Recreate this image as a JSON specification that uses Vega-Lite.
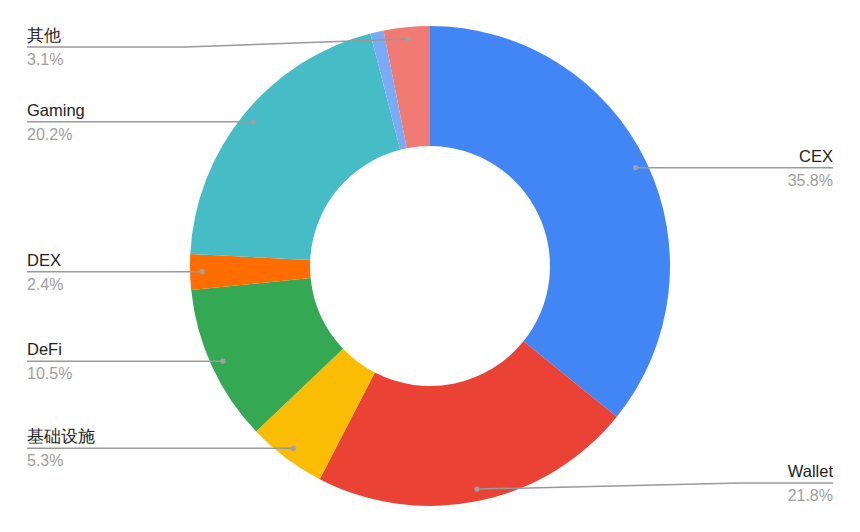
{
  "$schema": "https://vega.github.io/schema/vega-lite/v6.json",
  "autosize": {"type": "fit", "contains": "padding"},
  "width": 860,
  "height": 532,
  "padding": 0,
  "background": "white",
  "config": {"view": {"stroke": null}, "font": "Liberation Sans"},
  "data": {
    "values": [
      {"idx": 1, "category": "CEX", "value": 35.8},
      {"idx": 2, "category": "Wallet", "value": 21.8},
      {"idx": 3, "category": "基础设施", "value": 5.3},
      {"idx": 4, "category": "DeFi", "value": 10.5},
      {"idx": 5, "category": "DEX", "value": 2.4},
      {"idx": 6, "category": "Gaming", "value": 20.2},
      {"idx": 7, "category": "未标注", "value": 0.9},
      {"idx": 8, "category": "其他", "value": 3.1}
    ]
  },
  "transform": [
    {"window": [{"op": "sum", "field": "value", "as": "cum"}], "sort": [{"field": "idx"}], "frame": [null, 0]},
    {"joinaggregate": [{"op": "sum", "field": "value", "as": "total"}]},
    {"calculate": "(datum.cum - datum.value / 2) / datum.total * 2 * PI", "as": "mid"},
    {"calculate": "228 * sin(datum.mid)", "as": "px"},
    {"calculate": "228 * cos(datum.mid)", "as": "py"},
    {"calculate": "clamp(datum.py, -217, 219)", "as": "ly"},
    {"calculate": "datum.mid < PI ? 'right' : 'left'", "as": "side"},
    {"calculate": "datum.side == 'right' ? 403 : -403", "as": "lx"},
    {"calculate": "datum.py == datum.ly ? datum.px : (datum.side == 'right' ? 310 : -245)", "as": "kx"},
    {"calculate": "format(datum.value, '.1f') + '%'", "as": "pct"}
  ],
  "layer": [
    {
      "mark": {"type": "arc", "innerRadius": 120, "outerRadius": 240, "stroke": null},
      "encoding": {
        "theta": {"field": "value", "type": "quantitative", "stack": true},
        "order": {"field": "idx", "type": "quantitative"},
        "color": {
          "field": "category",
          "type": "nominal",
          "legend": null,
          "scale": {
            "domain": ["CEX", "Wallet", "基础设施", "DeFi", "DEX", "Gaming", "未标注", "其他"],
            "range": ["#4285f4", "#ea4335", "#fbbc04", "#34a853", "#ff6d01", "#46bdc6", "#7baaf7", "#f07b72"]
          }
        }
      }
    },
    {
      "transform": [{"filter": "datum.category != '未标注'"}],
      "mark": {"type": "rule", "color": "#999999", "strokeWidth": 1.5},
      "encoding": {
        "x": {"field": "px", "type": "quantitative", "axis": null, "scale": {"domain": [-430, 430], "nice": false, "zero": false}},
        "x2": {"field": "kx"},
        "y": {"field": "py", "type": "quantitative", "axis": null, "scale": {"domain": [-266, 266], "nice": false, "zero": false}},
        "y2": {"field": "ly"}
      }
    },
    {
      "transform": [{"filter": "datum.category != '未标注'"}],
      "mark": {"type": "rule", "color": "#999999", "strokeWidth": 1.5},
      "encoding": {
        "x": {"field": "kx", "type": "quantitative"},
        "x2": {"field": "lx"},
        "y": {"field": "ly", "type": "quantitative"}
      }
    },
    {
      "transform": [{"filter": "datum.category != '未标注'"}],
      "mark": {"type": "point", "filled": true, "color": "#a0a0a0", "size": 28, "opacity": 1},
      "encoding": {
        "x": {"field": "px", "type": "quantitative"},
        "y": {"field": "py", "type": "quantitative"}
      }
    },
    {
      "transform": [{"filter": "datum.category != '未标注' && datum.side == 'left'"}],
      "mark": {"type": "text", "align": "left", "baseline": "alphabetic", "dy": -6, "fontSize": 16.5, "color": "#222222"},
      "encoding": {
        "x": {"field": "lx", "type": "quantitative"},
        "y": {"field": "ly", "type": "quantitative"},
        "text": {"field": "category"}
      }
    },
    {
      "transform": [{"filter": "datum.category != '未标注' && datum.side == 'left'"}],
      "mark": {"type": "text", "align": "left", "baseline": "alphabetic", "dy": 18, "fontSize": 16, "color": "#9e9e9e"},
      "encoding": {
        "x": {"field": "lx", "type": "quantitative"},
        "y": {"field": "ly", "type": "quantitative"},
        "text": {"field": "pct"}
      }
    },
    {
      "transform": [{"filter": "datum.category != '未标注' && datum.side == 'right'"}],
      "mark": {"type": "text", "align": "right", "baseline": "alphabetic", "dy": -6, "fontSize": 16.5, "color": "#222222"},
      "encoding": {
        "x": {"field": "lx", "type": "quantitative"},
        "y": {"field": "ly", "type": "quantitative"},
        "text": {"field": "category"}
      }
    },
    {
      "transform": [{"filter": "datum.category != '未标注' && datum.side == 'right'"}],
      "mark": {"type": "text", "align": "right", "baseline": "alphabetic", "dy": 18, "fontSize": 16, "color": "#9e9e9e"},
      "encoding": {
        "x": {"field": "lx", "type": "quantitative"},
        "y": {"field": "ly", "type": "quantitative"},
        "text": {"field": "pct"}
      }
    }
  ]
}
